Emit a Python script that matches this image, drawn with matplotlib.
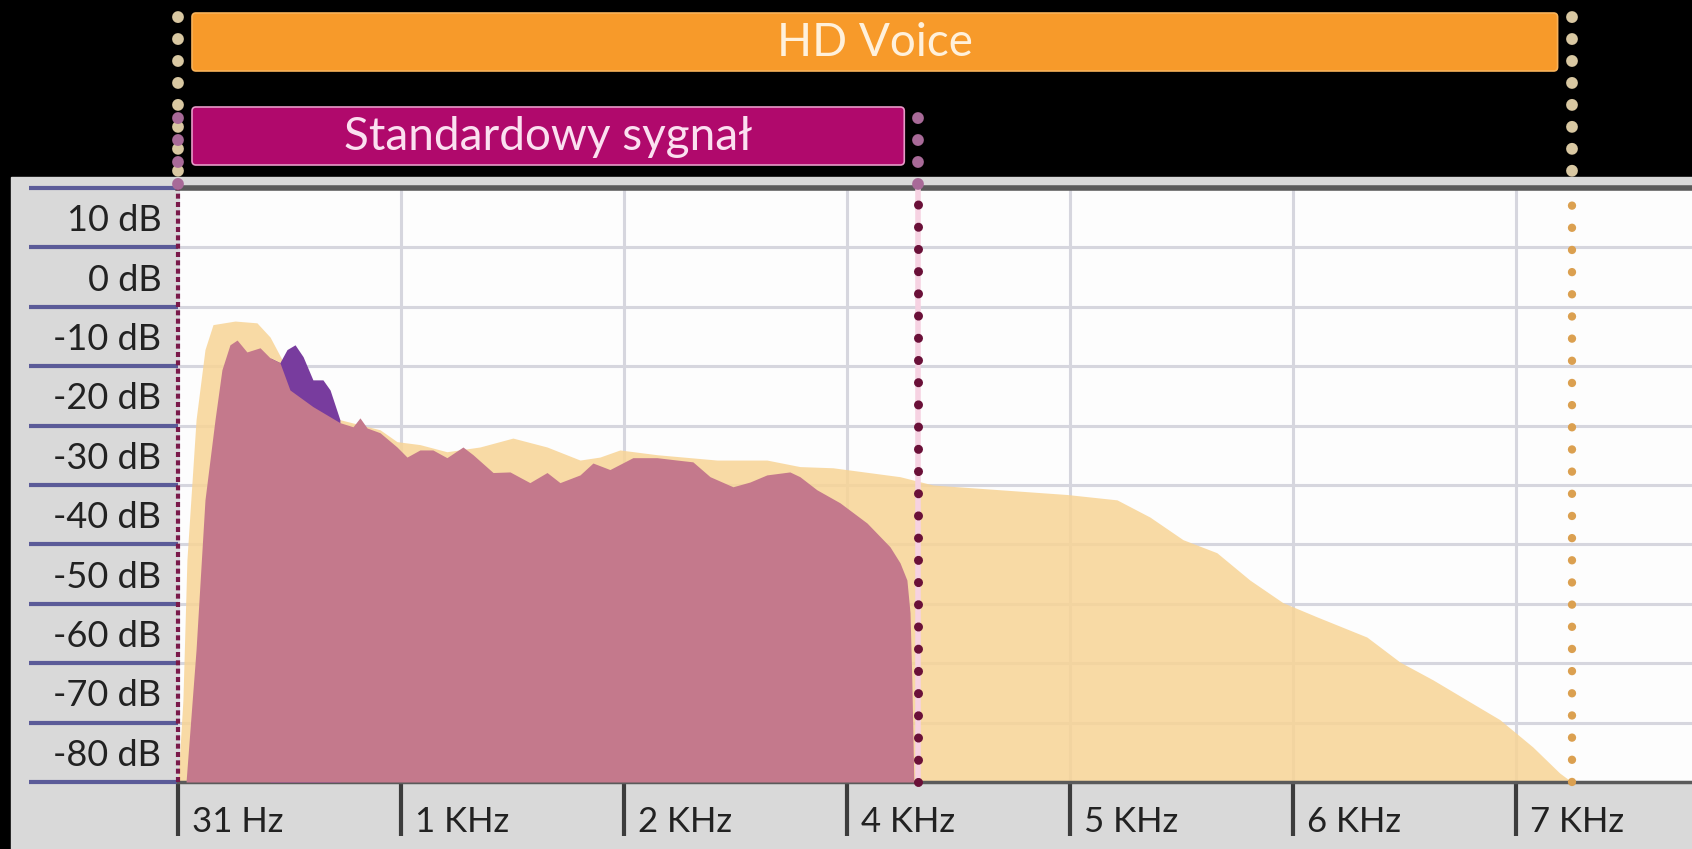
import matplotlib
matplotlib.use('Agg')
import matplotlib.pyplot as plt
from matplotlib.patches import Rectangle, FancyBboxPatch
from matplotlib.transforms import ScaledTranslation
import numpy as np

plt.rcParams['font.family'] = ['Lato', 'DejaVu Sans']

# --- data -------------------------------------------------------------
freq_labels = ['31 Hz', '1 KHz', '2 KHz', '4 KHz', '5 KHz', '6 KHz', '7 KHz']
db_levels = [10, 0, -10, -20, -30, -40, -50, -60, -70, -80]

# band limits, in tick-position units (31 Hz = 0, 1 KHz = 1, ...)
hd_band = (0.0, 6.25)
std_band = (0.0, 3.32)

# HD Voice spectrum (beige)
hd_x = [0.0, 0.022, 0.040, 0.081, 0.121, 0.157, 0.256, 0.354, 0.413, 0.502,
        0.605, 0.726, 0.906, 0.982, 1.085, 1.206, 1.354, 1.502, 1.655, 1.803,
        1.892, 1.982, 2.148, 2.417, 2.641, 2.789, 2.937, 3.238, 3.386, 3.686,
        3.987, 4.211, 4.359, 4.507, 4.659, 4.807, 4.955, 5.108, 5.332, 5.480,
        5.628, 5.780, 5.928, 6.076, 6.197, 6.251]
hd_db = [-85.0, -71.2, -47.6, -24.0, -12.2, -8.0, -7.4, -7.7, -10.1, -16.4,
         -20.7, -24.0, -25.7, -27.7, -28.2, -29.4, -28.6, -27.1, -28.6, -30.8,
         -30.3, -29.1, -29.9, -30.8, -30.8, -31.9, -32.1, -33.6, -35.0, -35.8,
         -36.6, -37.5, -40.4, -44.2, -46.4, -51.0, -54.8, -57.2, -60.6, -64.8,
         -67.8, -71.2, -74.5, -79.1, -83.5, -85.0]

# extra peak (purple) around 500 Hz
peak_x = [0.413, 0.457, 0.489, 0.525, 0.561, 0.605, 0.650, 0.682, 0.726]
peak_db = [-13.6, -14.4, -12.2, -11.4, -13.4, -17.3, -17.3, -19.0, -24.0]

# standard (narrowband) spectrum (pink)
std_x = [0.036, 0.081, 0.121, 0.166, 0.197, 0.233, 0.265, 0.309, 0.368, 0.413,
         0.457, 0.502, 0.605, 0.726, 0.785, 0.816, 0.848, 0.906, 0.982, 1.027,
         1.085, 1.143, 1.206, 1.278, 1.323, 1.413, 1.489, 1.578, 1.655, 1.713,
         1.803, 1.861, 1.937, 2.040, 2.148, 2.238, 2.309, 2.386, 2.489, 2.565,
         2.641, 2.744, 2.789, 2.865, 2.969, 3.090, 3.193, 3.238, 3.269, 3.283,
         3.291, 3.300]
std_db = [-85.0, -62.7, -37.5, -24.0, -15.6, -11.4, -10.6, -12.6, -11.9, -13.6,
          -14.4, -19.0, -21.8, -24.5, -25.2, -23.7, -25.4, -26.2, -28.6, -30.3,
          -29.1, -29.1, -30.4, -28.6, -29.9, -32.9, -32.8, -34.6, -32.9, -34.6,
          -33.3, -31.3, -32.4, -30.4, -30.4, -30.8, -31.1, -33.6, -35.3, -34.5,
          -33.3, -32.8, -33.6, -35.8, -38.0, -41.4, -45.4, -48.1, -51.0, -56.5,
          -67.8, -85.0]

# --- layout (pixels) -------------------------------------------------
W, H = 1692, 849
L, T, B = 178, 188, 782
XMAX = 6.79
YMIN, YMAX = -85, 15
px_per_unit = (W - L) / XMAX

fig = plt.figure(figsize=(W / 100, H / 100), dpi=100, facecolor='black')

# grey label panel behind the axis labels
fig.add_artist(Rectangle((11 / W, 0), 1 - 11 / W, (H - 177) / H,
                         transform=fig.transFigure, color='#d9d9d9', zorder=-5))

ax = fig.add_axes([L / W, 1 - B / H, (W - L) / W, (B - T) / H])
ax.set_facecolor('#fdfdfd')
ax.set_xlim(0, XMAX)
ax.set_ylim(YMIN, YMAX)
ax.set_axisbelow(True)

for s in ['left', 'right']:
    ax.spines[s].set_visible(False)
ax.spines['top'].set_color('#5a5a5a')
ax.spines['top'].set_linewidth(4)
ax.spines['bottom'].set_color('#5a5a5a')
ax.spines['bottom'].set_linewidth(2.5)

# y axis: labels centred in bands, lines on band edges
ax.set_yticks(db_levels)
ax.set_yticklabels([f'{v} dB' for v in db_levels])
ax.set_yticks([v + 5 for v in db_levels] + [db_levels[-1] - 5], minor=True)
ax.tick_params(axis='y', which='major', length=0, pad=12, labelsize=26,
               labelcolor='#222222')
ax.tick_params(axis='y', which='minor', length=107, width=3, color='#5b5b98')
ax.grid(axis='y', which='minor', color='#d6d6de', lw=2.2)

# x axis
ax.set_xticks(range(len(freq_labels)))
ax.set_xticklabels(freq_labels)
ax.tick_params(axis='x', which='major', length=39, width=3, color='#3c3c3c',
               pad=-22, labelsize=25, labelcolor='#222222')
ax.grid(axis='x', which='major', color='#d6d6de', lw=2.2)
shift = ScaledTranslation(14 / 100, 0, fig.dpi_scale_trans)
for lbl in ax.get_xticklabels():
    lbl.set_horizontalalignment('left')
    lbl.set_transform(lbl.get_transform() + shift)

# spectra
ax.fill_between(hd_x, hd_db, YMIN, color='#f8d496', alpha=0.85, lw=0, zorder=2)
ax.fill_between(peak_x, peak_db, YMIN, color='#783c9e', lw=0, zorder=3)
ax.fill_between(std_x, std_db, YMIN, color='#c4798c', lw=0, zorder=4)

# band edge markers inside the plot
dots = dict(dash_capstyle='round', clip_on=False, zorder=6)
ax.axvline(hd_band[1], color='#dba050', lw=6, linestyle=(0, (0.01, 2.65)), **dots)
ax.axvline(std_band[1], color='#f6d2e2', lw=4, zorder=5)
ax.axvline(std_band[1], color='#6a1038', lw=6.5, linestyle=(0, (0.01, 2.45)), **dots)
ax.axvline(std_band[0], color='#7a1a4a', lw=3, linestyle=(0, (1.2, 0.8)),
           clip_on=False, zorder=6)

# --- band bars above the plot ---------------------------------------
top = fig.add_axes([L / W, 1 - T / H, (W - L) / W, T / H], sharex=ax)
top.set_ylim(T, 0)
top.axis('off')

pad = 14 / px_per_unit
bars = [(hd_band, 13, 71, '#f79a2a', '#f7b25a', 'HD Voice', '#fff1dc'),
        (std_band, 107, 165, '#b0096c', '#e79ac8', 'Standardowy sygnał', '#fbe0f0')]
for (lo, hi), y0, y1, fc, ec, label, tc in bars:
    box = FancyBboxPatch((lo + pad, y0), hi - lo - 2 * pad, y1 - y0,
                         boxstyle=f'round,pad=0,rounding_size={4 / px_per_unit}',
                         mutation_aspect=px_per_unit, fc=fc, ec=ec, lw=1.2)
    top.add_patch(box)
    top.text((lo + hi) / 2, (y0 + y1) / 2 + 1, label, ha='center', va='center',
             fontsize=33, color=tc)

dots_top = dict(lw=8.5, linestyle=(0, (0.01, 1.85)), dash_capstyle='round',
                clip_on=False)
for xv in hd_band:
    top.plot([xv, xv], [17, T], color='#d9c8a2', **dots_top)
for xv in std_band:
    top.plot([xv, xv], [118, T], color='#a86a98', **dots_top)

fig.savefig('out.png', dpi=100, facecolor='black')
